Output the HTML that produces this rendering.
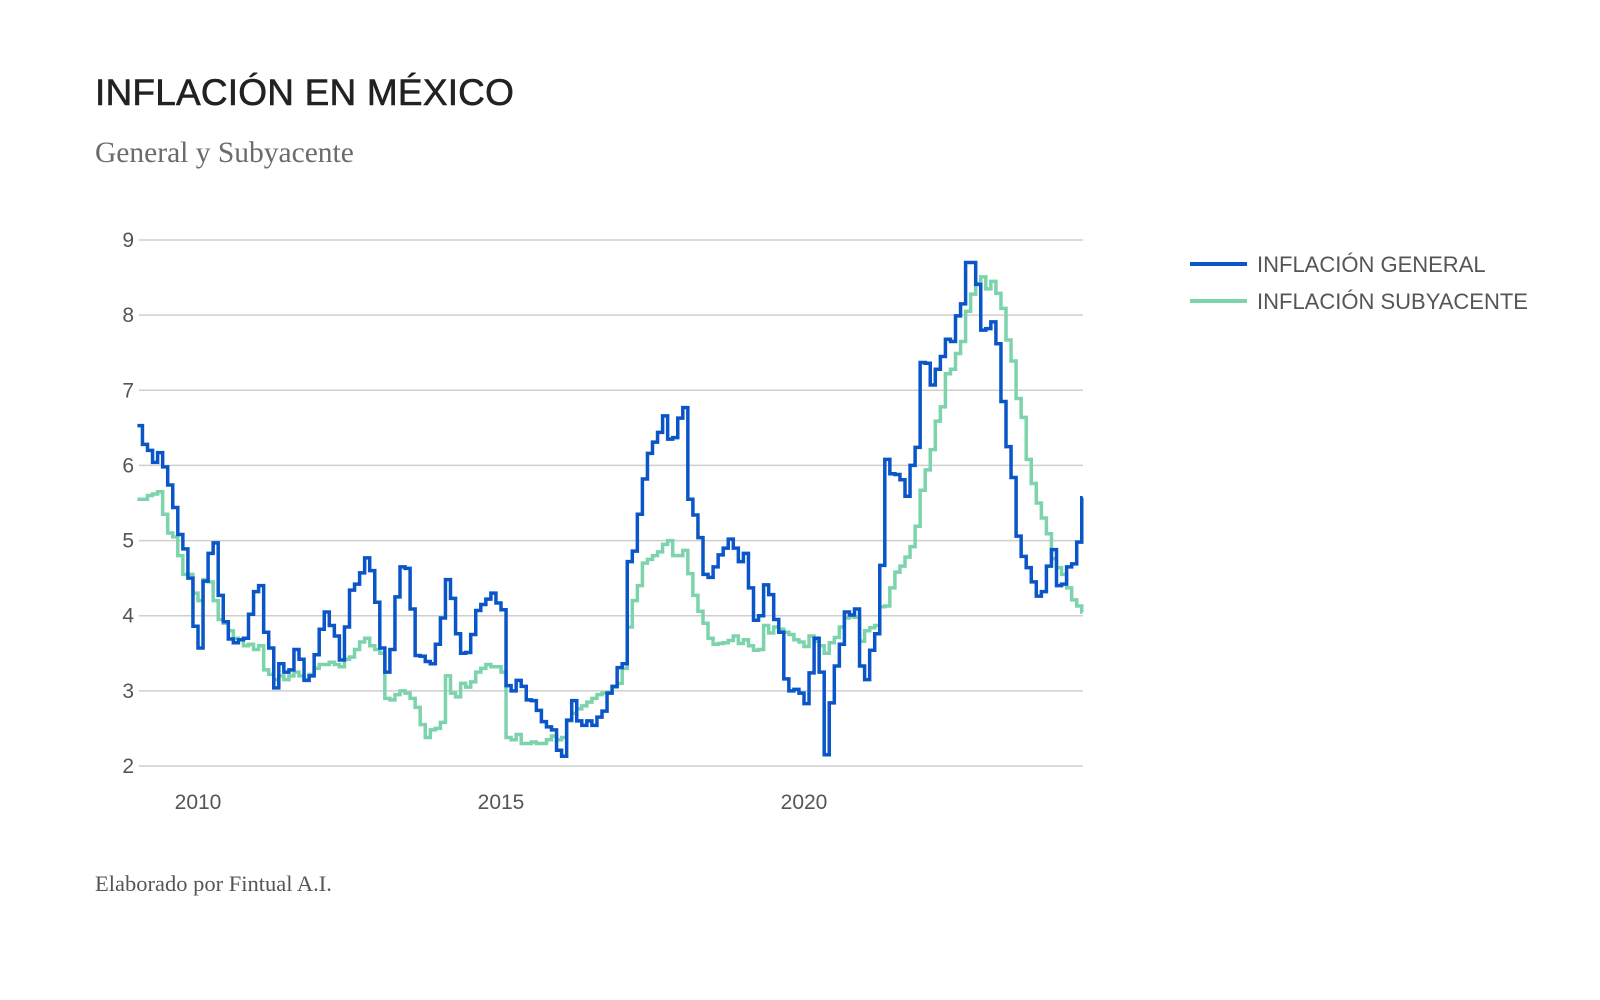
<!DOCTYPE html>
<html><head><meta charset="utf-8"><style>
html,body{margin:0;padding:0;background:#fff;}
body{width:1600px;height:1000px;position:relative;overflow:hidden;font-family:"Liberation Sans",sans-serif;}
.title{position:absolute;left:95px;top:72px;font-size:37px;color:#222;letter-spacing:0.2px;-webkit-text-stroke:0.6px #222;}
.sub{position:absolute;left:95px;top:137px;font-family:"Liberation Serif",serif;font-size:29.5px;color:#6b6b6b;}
.foot{position:absolute;left:95px;top:871px;font-family:"Liberation Serif",serif;font-size:22.5px;color:#555;}
svg{position:absolute;left:0;top:0;}
</style></head><body>
<div class="title">INFLACIÓN EN MÉXICO</div>
<div class="sub">General y Subyacente</div>
<div class="foot">Elaborado por Fintual A.I.</div>
<svg id="chart" width="1600" height="1000"></svg>
<script>
const yTicks=[2,3,4,5,6,7,8,9];
const xTickLabels=["2010","2015","2020"];
const xTickYears=[2010,2015,2020];
const seriesNames=["INFLACIÓN GENERAL","INFLACIÓN SUBYACENTE"];
const general=[6.53,
6.28,6.20,6.04,6.17,5.98,5.74,5.44,5.08,4.89,4.50,3.86,3.57,
4.46,4.83,4.97,4.27,3.92,3.69,3.64,3.68,3.70,4.02,4.32,4.40,
3.78,3.57,3.04,3.36,3.25,3.28,3.55,3.42,3.14,3.20,3.48,3.82,
4.05,3.87,3.73,3.41,3.85,4.34,4.42,4.57,4.77,4.60,4.18,3.57,
3.25,3.55,4.25,4.65,4.63,4.09,3.47,3.46,3.39,3.36,3.62,3.97,
4.48,4.23,3.76,3.50,3.51,3.75,4.07,4.15,4.22,4.30,4.17,4.08,
3.07,3.00,3.14,3.06,2.88,2.87,2.74,2.59,2.52,2.48,2.21,2.13,
2.61,2.87,2.60,2.54,2.60,2.54,2.65,2.73,2.97,3.06,3.31,3.36,
4.72,4.86,5.35,5.82,6.16,6.31,6.44,6.66,6.35,6.37,6.63,6.77,
5.55,5.34,5.04,4.55,4.51,4.65,4.81,4.90,5.02,4.90,4.72,4.83,
4.37,3.94,4.00,4.41,4.28,3.95,3.78,3.16,3.00,3.02,2.97,2.83,
3.24,3.70,3.25,2.15,2.84,3.33,3.62,4.05,4.01,4.09,3.33,3.15,
3.54,3.76,4.67,6.08,5.89,5.88,5.81,5.59,6.00,6.24,7.37,7.36,
7.07,7.28,7.45,7.68,7.65,7.99,8.15,8.70,8.70,8.41,7.80,7.82,
7.91,7.62,6.85,6.25,5.84,5.06,4.79,4.64,4.45,4.26,4.32,4.66,
4.88,4.40,4.42,4.65,4.69,4.98,5.57];
const core=[5.55,
5.55,5.6,5.62,5.65,5.35,5.1,5.05,4.8,4.55,4.55,4.3,4.2,
4.48,4.45,4.2,3.95,3.9,3.8,3.7,3.68,3.6,3.62,3.55,3.6,
3.28,3.22,3.15,3.2,3.15,3.2,3.25,3.2,3.15,3.22,3.3,3.35,
3.35,3.38,3.35,3.32,3.42,3.45,3.55,3.65,3.7,3.6,3.55,3.5,
2.9,2.88,2.95,3.0,2.97,2.9,2.78,2.55,2.38,2.48,2.5,2.58,
3.2,2.97,2.92,3.1,3.05,3.12,3.25,3.3,3.35,3.32,3.32,3.25,
2.38,2.35,2.42,2.3,2.3,2.32,2.3,2.3,2.35,2.4,2.35,2.38,
2.6,2.7,2.76,2.8,2.85,2.9,2.95,2.97,2.98,3.05,3.1,3.3,
3.85,4.2,4.4,4.7,4.75,4.8,4.85,4.95,5.0,4.8,4.8,4.87,
4.56,4.27,4.06,3.9,3.7,3.62,3.63,3.64,3.67,3.73,3.63,3.68,
3.6,3.54,3.55,3.87,3.77,3.85,3.82,3.78,3.75,3.68,3.65,3.59,
3.73,3.66,3.6,3.5,3.64,3.71,3.85,3.97,3.99,3.98,3.66,3.8,
3.84,3.87,4.12,4.13,4.37,4.58,4.66,4.78,4.92,5.19,5.67,5.94,
6.21,6.59,6.78,7.22,7.28,7.49,7.65,8.05,8.28,8.42,8.51,8.35,
8.45,8.29,8.09,7.67,7.39,6.89,6.64,6.08,5.76,5.5,5.3,5.09,
4.76,4.64,4.55,4.37,4.21,4.13,4.05];
const startYear=2009.0;

const svg=document.getElementById('chart');
const NS='http://www.w3.org/2000/svg';
const X0=139,X1=1083;
function xs(yr){return 198+(yr-2010)*60.6;}
function ys(v){return 766-(v-2)*(526/7);}
function mk(tag,attrs){const e=document.createElementNS(NS,tag);for(const k in attrs)e.setAttribute(k,attrs[k]);svg.appendChild(e);return e;}

yTicks.forEach(t=>{
  const g=mk('line',{x1:X0,x2:X1,y1:ys(t),y2:ys(t),stroke:'#cfcfcf','stroke-width':1.5});
  
  
  const tx=mk('text',{x:134,y:ys(t)+7,'text-anchor':'end','font-size':21,fill:'#555','font-family':'Liberation Sans, sans-serif'});
  tx.textContent=t;
  
  
});
xTickYears.forEach((y,i)=>{
  const tx=mk('text',{x:xs(y),y:809,'text-anchor':'middle','font-size':21,fill:'#555','font-family':'Liberation Sans, sans-serif'});
  tx.textContent=xTickLabels[i];
  
  
});
function stepPath(arr){
  let d='';
  const dx=60.6/12;
  arr.forEach((v,i)=>{
    const x=xs(startYear+i/12), y=ys(v);
    if(i===0)d+='M'+x+','+y;else d+='H'+x+'V'+y;
  });
  d+='H'+Math.min(X1,xs(startYear+(arr.length-1)/12)+dx*0.2);
  return d;
}
const pc=mk('path',{d:stepPath(core),fill:'none',stroke:'#7dd3ac','stroke-width':3.5,'stroke-linejoin':'miter'});


const pg=mk('path',{d:stepPath(general),fill:'none',stroke:'#0a56c8','stroke-width':3.5,'stroke-linejoin':'miter'});



const colors=['#0a56c8','#7dd3ac'];
seriesNames.forEach((n,i)=>{
  const y=264+i*37;
  const l=mk('line',{x1:1190,x2:1247,y1:y,y2:y,stroke:colors[i],'stroke-width':4});
  
  
  const t=mk('text',{x:1257,y:y+8,'font-size':22,fill:'#555','font-family':'Liberation Sans, sans-serif'});
  t.textContent=n;
  
  
});
</script>
</body></html>
